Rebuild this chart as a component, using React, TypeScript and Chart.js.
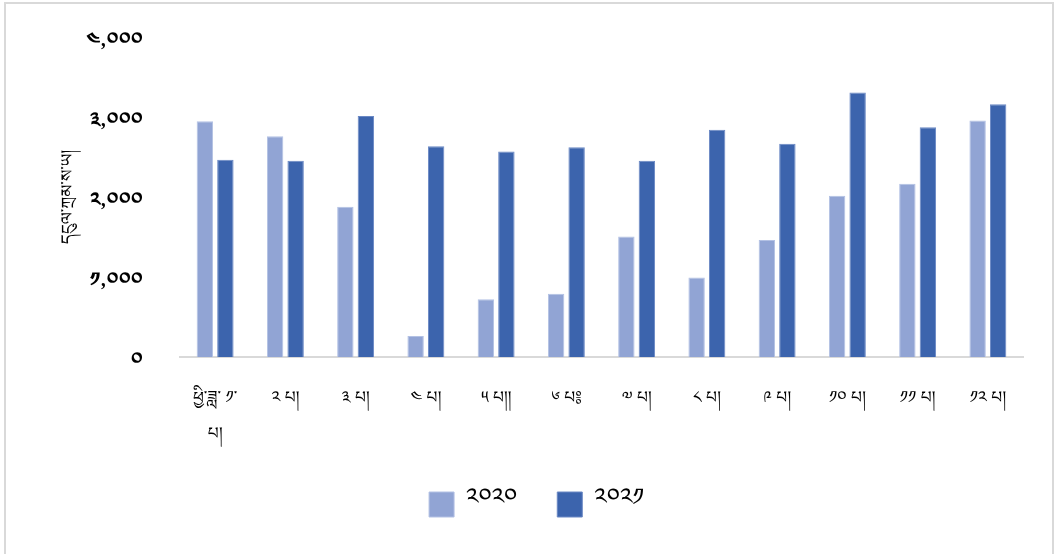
import React, { useEffect, useRef } from "react";
import { Chart, registerables } from "chart.js";

Chart.register(...registerables);

const categories: (string | string[])[] = [
  ["ཕྱི་ཟླ་ ༡་", "པ།"],
  "༢ པ།",
  "༣ པ།",
  "༤ པ།",
  "༥ པ།།",
  "༦ པ༔",
  "༧ པ།",
  "༨ པ།",
  "༩ པ།",
  "༡༠ པ།",
  "༡༡ པ།",
  "༡༢ པ།",
];

const series2020 = [2947, 2759, 1877, 263, 723, 790, 1505, 995, 1463, 2015, 2165, 2955];
const series2021 = [2466, 2454, 3013, 2633, 2570, 2621, 2454, 2842, 2667, 3306, 2871, 3160];

const seriesNames = ["༢༠༢༠", "༢༠༢༡"];
const yTickLabels: Record<number, string> = {
  0: "༠",
  1000: "༡,༠༠༠",
  2000: "༢,༠༠༠",
  3000: "༣,༠༠༠",
  4000: "༤,༠༠༠",
};
const yTitle = "དངུལ་ཀྲམ་ས་ཡ།";

const FONT = "'Noto Serif Tibetan','Noto Sans Tibetan','Jomolhari','Microsoft Himalaya','DejaVu Serif',serif";

const framePlugin = {
  id: "frame",
  beforeDraw(chart: any) {
    const ctx = chart.ctx;
    ctx.save();
    ctx.fillStyle = "#ffffff";
    ctx.fillRect(0, 0, chart.width, chart.height);
    ctx.strokeStyle = "#d9d9d9";
    ctx.lineWidth = 2;
    ctx.strokeRect(5, 3, 1048, 620);
    ctx.restore();
  },
};

export default function App() {
  const ref = useRef<HTMLCanvasElement | null>(null);

  useEffect(() => {
    document.body.style.margin = "0";
    if (!ref.current) return;
    const chart = new Chart(ref.current, {
      type: "bar",
      data: {
        labels: categories,
        datasets: [
          {
            label: seriesNames[0],
            data: series2020,
            backgroundColor: "#91a4d4",
            borderColor: "#b3c1e4",
            borderWidth: 1,
            categoryPercentage: 0.584,
            barPercentage: 0.8,
          },
          {
            label: seriesNames[1],
            data: series2021,
            backgroundColor: "#3c64ad",
            borderColor: "#6a88c4",
            borderWidth: 1,
            categoryPercentage: 0.584,
            barPercentage: 0.8,
          },
        ],
      },
      options: {
        animation: false,
        responsive: false,
        maintainAspectRatio: false,
        layout: { padding: { top: 37, right: 39, left: 50, bottom: 27 } },
        plugins: {
          legend: {
            position: "bottom",
            labels: {
              boxWidth: 25,
              boxHeight: 25,
              padding: 40,
              color: "#000",
              font: { family: FONT, size: 24 },
            },
          },
          tooltip: { enabled: false },
        },
        scales: {
          x: {
            grid: { display: false },
            border: { display: true, color: "#d9d9d9", width: 2 },
            ticks: {
              color: "#000",
              font: { family: FONT, size: 17, lineHeight: 2.1 },
              padding: 20,
              maxRotation: 0,
              autoSkip: false,
            },
            afterFit: (axis: any) => {
              axis.height = 95;
            },
          },
          y: {
            min: 0,
            max: 4000,
            grid: { display: false },
            border: { display: false },
            afterFit: (axis: any) => {
              axis.width = 130;
              axis.paddingTop = 0;
              axis.paddingBottom = 0;
            },
            ticks: {
              stepSize: 1000,
              padding: 29,
              labelOffset: 9,
              color: "#000",
              font: { family: FONT, size: 20, weight: "bold" },
              callback: (v: any) => yTickLabels[Number(v)] ?? String(v),
            },
            title: {
              display: true,
              text: yTitle,
              color: "#000",
              font: { family: FONT, size: 17 },
              padding: { top: 12, bottom: 0 },
            },
          },
        },
      },
      plugins: [framePlugin],
    });
    return () => chart.destroy();
  }, []);

  return <canvas ref={ref} width={1062} height={554} style={{ display: "block" }} />;
}
